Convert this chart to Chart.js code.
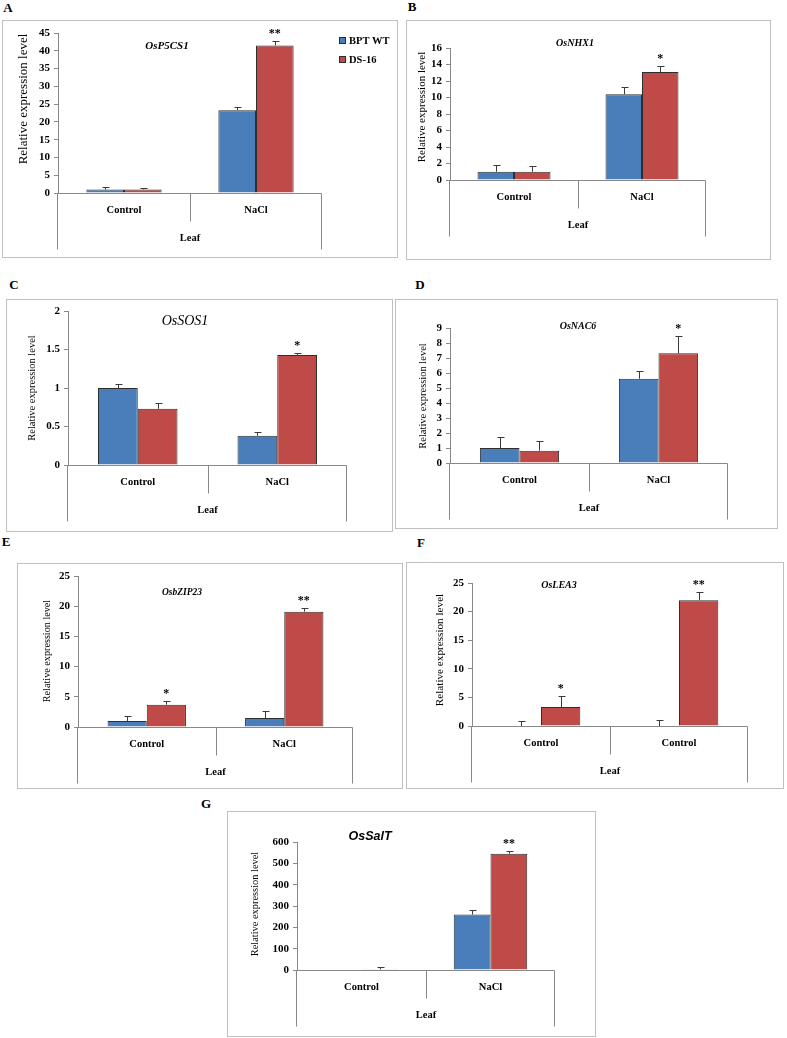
<!DOCTYPE html>
<html>
<head>
<meta charset="utf-8">
<script src="https://cdn.jsdelivr.net/npm/chart.js@4.4.0/dist/chart.umd.min.js"></script>
<style>
  body { margin: 0; background: #fff; width: 787px; height: 1038px; position: relative; overflow: hidden; }
  canvas { position: absolute; outline: 1px solid #bfbfbf; }
  .tag { position: absolute; font: bold 13px "Liberation Serif", serif; transform: translate(-50%, -50%); }
</style>
</head>
<body>
<div class="tag" style="left:8px;top:8px">A</div>
<div class="tag" style="left:412px;top:7px">B</div>
<div class="tag" style="left:14px;top:285px">C</div>
<div class="tag" style="left:420px;top:285px">D</div>
<div class="tag" style="left:6px;top:542px">E</div>
<div class="tag" style="left:421px;top:543px">F</div>
<div class="tag" style="left:206px;top:804px">G</div>
<canvas id="chartA"></canvas>
<canvas id="chartB"></canvas>
<canvas id="chartC"></canvas>
<canvas id="chartD"></canvas>
<canvas id="chartE"></canvas>
<canvas id="chartF"></canvas>
<canvas id="chartG"></canvas>
<script>
// categories and series
var categories = ['Control', 'NaCl'];
var categoriesLEA3 = ['Control', 'Control'];
var tissue = 'Leaf';
var seriesNames = ['BPT WT', 'DS-16'];
var yAxisTitle = 'Relative expression level';

// values (mean, + error, significance over DS-16)
var p5cs1WT = [1.0, 23.3], p5cs1WTErr = [0.8, 1.0];
var p5cs1DS = [1.0, 41.5], p5cs1DSErr = [0.5, 1.3];
var p5cs1Sig = ['', '**'];

var nhx1WT = [1.0, 10.4], nhx1WTErr = [0.85, 0.85];
var nhx1DS = [1.0, 13.1], nhx1DSErr = [0.65, 0.7];
var nhx1Sig = ['', '*'];

var sos1WT = [1.0, 0.38], sos1WTErr = [0.05, 0.05];
var sos1DS = [0.73, 1.43], sos1DSErr = [0.08, 0.03];
var sos1Sig = ['', '*'];

var nac6WT = [1.0, 5.62], nac6WTErr = [0.73, 0.49];
var nac6DS = [0.82, 7.31], nac6DSErr = [0.62, 1.13];
var nac6Sig = ['', '*'];

var bzip23WT = [1.0, 1.5], bzip23WTErr = [0.85, 1.1];
var bzip23DS = [3.7, 19.1], bzip23DSErr = [0.65, 0.6];
var bzip23Sig = ['*', '**'];

var lea3WT = [0, 0], lea3WTErr = [0.9, 1.0];
var lea3DS = [3.3, 22.0], lea3DSErr = [1.9, 1.4];
var lea3Sig = ['*', '**'];

var saltWT = [2, 260], saltWTErr = [0, 19];
var saltDS = [3, 545], saltDSErr = [11, 13];
var saltSig = ['', '**'];

var BLUE = '#4a7ebb', RED = '#be4b48', EDGE = '#2e2e2e', AXIS = '#888888';
var SERIF = '"Liberation Serif", serif';
Chart.defaults.font.family = SERIF;

// panel layout (page pixels): frame box, plot box, gene title, y title
var panels = [
  { id: 'chartA', gene: 'OsP5CS1', labels: categories, wt: p5cs1WT, wtErr: p5cs1WTErr, ds: p5cs1DS, dsErr: p5cs1DSErr, sig: p5cs1Sig,
    max: 45, step: 5, frame: [3, 21, 397, 257], plot: [58, 33, 322, 193],
    title: [167, 46, 'italic bold 11px ' + SERIF], yTitle: [24, 99, 13], legend: [339, 37] },
  { id: 'chartB', gene: 'OsNHX1', labels: categories, wt: nhx1WT, wtErr: nhx1WTErr, ds: nhx1DS, dsErr: nhx1DSErr, sig: nhx1Sig,
    max: 16, step: 2, frame: [407, 21, 770, 259], plot: [450, 48, 706, 180],
    title: [575, 43, 'italic bold 10px ' + SERIF], yTitle: [422, 107, 11] },
  { id: 'chartC', gene: 'OsSOS1', labels: categories, wt: sos1WT, wtErr: sos1WTErr, ds: sos1DS, dsErr: sos1DSErr, sig: sos1Sig,
    max: 2, step: 0.5, frame: [7, 300, 392, 531], plot: [68, 311, 347, 465],
    title: [185, 321, 'italic 14px ' + SERIF], yTitle: [32, 388, 10.5] },
  { id: 'chartD', gene: 'OsNAC6', labels: categories, wt: nac6WT, wtErr: nac6WTErr, ds: nac6DS, dsErr: nac6DSErr, sig: nac6Sig,
    max: 9, step: 1, frame: [396, 300, 777, 528], plot: [450, 328, 728, 463],
    title: [578, 326, 'italic bold 10px ' + SERIF], yTitle: [423, 396, 10.5] },
  { id: 'chartE', gene: 'OsbZIP23', labels: categories, wt: bzip23WT, wtErr: bzip23WTErr, ds: bzip23DS, dsErr: bzip23DSErr, sig: bzip23Sig,
    max: 25, step: 5, frame: [18, 564, 402, 788], plot: [78, 576, 353, 727],
    title: [182, 593, 'italic bold 9.5px ' + SERIF], yTitle: [47, 651, 10.2] },
  { id: 'chartF', gene: 'OsLEA3', labels: categoriesLEA3, wt: lea3WT, wtErr: lea3WTErr, ds: lea3DS, dsErr: lea3DSErr, sig: lea3Sig,
    max: 25, step: 5, frame: [407, 563, 783, 788], plot: [472, 583, 748, 726],
    title: [559, 585, 'italic bold 10px ' + SERIF], yTitle: [440, 650, 11.2] },
  { id: 'chartG', gene: 'OsSalT', labels: categories, wt: saltWT, wtErr: saltWTErr, ds: saltDS, dsErr: saltDSErr, sig: saltSig,
    max: 600, step: 100, frame: [228, 812, 595, 1036], plot: [297, 842, 555, 970],
    title: [370, 837, 'italic bold 12.5px "Liberation Sans", sans-serif'], yTitle: [255, 904, 10.4] }
];

// error bars, stars, category axis, titles, legend
function makeDeco(p) {
  var fl = p.frame[0], ft = p.frame[1];
  return {
    id: 'deco',
    afterDatasetsDraw: function (chart) {
      var ctx = chart.ctx, y = chart.scales.y;
      ctx.save();
      ctx.strokeStyle = '#3a3a3a';
      ctx.lineWidth = 1;
      [[p.wt, p.wtErr], [p.ds, p.dsErr]].forEach(function (s, i) {
        chart.getDatasetMeta(i).data.forEach(function (bar, j) {
          if (!s[1][j]) return;
          var x = Math.round(bar.x) + 0.5;
          var top = Math.round(y.getPixelForValue(s[0][j] + s[1][j])) + 0.5;
          ctx.beginPath();
          ctx.moveTo(x, y.getPixelForValue(s[0][j]));
          ctx.lineTo(x, top);
          ctx.moveTo(x - 3, top);
          ctx.lineTo(x + 4, top);
          ctx.stroke();
        });
      });
      ctx.fillStyle = '#000';
      ctx.font = 'bold 12px ' + SERIF;
      ctx.textAlign = 'center';
      ctx.textBaseline = 'alphabetic';
      chart.getDatasetMeta(1).data.forEach(function (bar, j) {
        if (!p.sig[j]) return;
        ctx.fillText(p.sig[j], bar.x, y.getPixelForValue(p.ds[j] + p.dsErr[j]) - 4);
      });
      ctx.restore();
    },
    afterDraw: function (chart) {
      var ctx = chart.ctx, a = chart.chartArea, x = chart.scales.x;
      var y0 = Math.round(chart.scales.y.getPixelForValue(0)) + 0.5;
      var l = Math.round(a.left) - 0.5, r = Math.round(a.right) - 0.5;
      var mid = Math.round((x.getPixelForValue(0) + x.getPixelForValue(1)) / 2) + 0.5;
      ctx.save();
      ctx.strokeStyle = AXIS;
      ctx.lineWidth = 1;
      ctx.beginPath();
      ctx.moveTo(l, y0); ctx.lineTo(r, y0);
      ctx.moveTo(l, y0); ctx.lineTo(l, y0 + 56);
      ctx.moveTo(r, y0); ctx.lineTo(r, y0 + 56);
      ctx.moveTo(mid, y0); ctx.lineTo(mid, y0 + 28);
      ctx.stroke();

      ctx.fillStyle = '#000';
      ctx.textAlign = 'center';
      ctx.textBaseline = 'middle';
      ctx.font = 'bold 10.5px ' + SERIF;
      p.labels.forEach(function (lab, j) {
        ctx.fillText(lab, x.getPixelForValue(j), y0 + 17);
      });
      ctx.fillText(tissue, (a.left + a.right) / 2, y0 + 45);

      ctx.font = p.title[2];
      ctx.fillText(p.gene, p.title[0] - fl, p.title[1] - ft);

      ctx.save();
      ctx.translate(p.yTitle[0] - fl, p.yTitle[1] - ft);
      ctx.rotate(-Math.PI / 2);
      ctx.font = p.yTitle[2] + 'px ' + SERIF;
      ctx.fillText(yAxisTitle, 0, 0);
      ctx.restore();

      if (p.legend) {
        var lx = p.legend[0] - fl, ly = p.legend[1] - ft;
        [BLUE, RED].forEach(function (c, i) {
          var yy = ly + i * 19;
          ctx.fillStyle = c;
          ctx.fillRect(lx, yy, 7, 7);
          ctx.strokeStyle = EDGE;
          ctx.strokeRect(lx + 0.5, yy + 0.5, 6, 6);
          ctx.fillStyle = '#000';
          ctx.textAlign = 'left';
          ctx.font = 'bold 10.5px ' + SERIF;
          ctx.fillText(seriesNames[i], lx + 10, yy + 4);
        });
      }
      ctx.restore();
    }
  };
}

panels.forEach(function (p) {
  var f = p.frame, pl = p.plot;
  var cv = document.getElementById(p.id);
  cv.width = f[2] - f[0];
  cv.height = f[3] - f[1];
  cv.style.left = f[0] + 'px';
  cv.style.top = f[1] + 'px';

  new Chart(cv.getContext('2d'), {
    type: 'bar',
    data: {
      labels: p.labels,
      datasets: [
        { label: seriesNames[0], data: p.wt, backgroundColor: BLUE, borderColor: EDGE, borderWidth: 1,
          categoryPercentage: 0.57, barPercentage: 1.0 },
        { label: seriesNames[1], data: p.ds, backgroundColor: RED, borderColor: EDGE, borderWidth: 1,
          categoryPercentage: 0.57, barPercentage: 1.0 }
      ]
    },
    options: {
      responsive: false,
      animation: false,
      layout: { padding: { left: 0, top: pl[1] - f[1], right: f[2] - pl[2], bottom: f[3] - pl[3] } },
      plugins: { legend: { display: false }, tooltip: { enabled: false } },
      scales: {
        x: { display: false },
        y: {
          min: 0,
          max: p.max,
          ticks: {
            stepSize: p.step, autoSkip: false, color: '#000', padding: 4, font: { size: 11, weight: 'bold' },
            callback: function (v) { return String(v); }
          },
          grid: { drawOnChartArea: false, tickLength: 4, color: AXIS },
          border: { color: AXIS },
          afterFit: function (scale) { scale.width = pl[0] - f[0]; }
        }
      }
    },
    plugins: [makeDeco(p)]
  });
});
</script>
</body>
</html>
